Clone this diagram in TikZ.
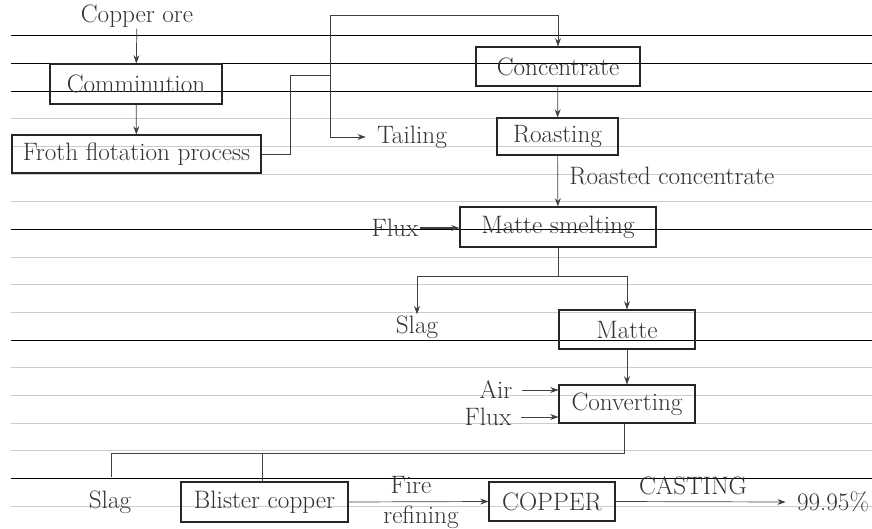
\documentclass[tikz,border=0pt]{standalone}
\usetikzlibrary{arrows.meta}
\begin{document}
\begin{tikzpicture}[x=0.03cm,y=-0.03cm,
  box/.style 2 args={draw=black!85,line width=0.9pt,minimum width=#1*0.03cm,minimum height=#2*0.03cm,inner sep=0pt,font=\fontsize{21.5}{24}\selectfont,text=black!80},
  lbl/.style={inner sep=1pt,font=\fontsize{21.5}{24}\selectfont,text=black!80},
  conn/.style={draw=black!75,line width=0.6pt},
  arr/.style={conn,-{Stealth[length=7pt,width=5pt]}},
  rulerdark/.style={line width=0.7pt,black},
  rulerfaint/.style={line width=0.6pt,black!20}]
\useasboundingbox (0,0) rectangle (872,528);
% ruled lines
\foreach \yy in {118,146,174,201,257,284,312,367,395,423,450,506}
  \draw[rulerfaint] (11,\yy) -- (872,\yy);
\foreach \yy in {35,63,91,229,340,478}
  \draw[rulerdark] (11,\yy) -- (872,\yy);
% boxes
\node[box={172}{40}] (comm) at (136,84) {Comminution};
\node[box={249}{38}] (froth) at (136.5,154) {Froth flotation process};
\node[box={164}{39}] (conc) at (558,66.5) {Concentrate};
\node[box={121}{37}] (roast) at (557.5,136.5) {Roasting};
\node[box={196}{40}] (smelt) at (558,227) {Matte smelting};
\node[box={136}{39}] (matte) at (627,329.5) {Matte};
\node[box={136}{38}] (conv) at (627,404) {Converting};
\node[box={167}{40}] (blister) at (264.5,502) {Blister copper};
\node[box={126}{39}] (copper) at (552,501.5) {COPPER};
% labels
\node[lbl] (ore) at (137,16) {Copper ore};
\node[lbl] (tail) at (412,137) {Tailing};
\node[lbl,anchor=west] (roasted) at (568,176) {Roasted concentrate};
\node[lbl] (flux1) at (395,228) {Flux};
\node[lbl] (slag1) at (417,327) {Slag};
\node[lbl] (air) at (496,390) {Air};
\node[lbl] (flux2) at (488,417) {Flux};
\node[lbl] (slag2) at (110,502) {Slag};
\node[lbl] (fire) at (411,485) {Fire};
\node[lbl] (refin) at (421,517) {refining};
\node[lbl] (cast) at (693,486) {CASTING};
\node[lbl] (pct) at (833,502) {99.95\%};
% junctions
\coordinate (j1) at (290,154);
\coordinate (j2) at (290,75);
\coordinate (j3) at (330,75);
\coordinate (j4) at (330,15);
\coordinate (j5) at (558,15);
\coordinate (j6) at (330,137);
\coordinate (k1) at (558,276);
\coordinate (k2) at (417,276);
\coordinate (k3) at (627,276);
\coordinate (m1) at (624,453);
\coordinate (m2) at (111,453);
\coordinate (m3) at (111,477);
\coordinate (m4) at (262,453);
% connectors
\draw[arr] (ore) -- (comm);
\draw[arr] (comm) -- (froth);
\draw[conn] (froth.east) -- (j1) -- (j2) -- (j3);
\draw[conn] (j4) -- (j6);
\draw[arr] (j4) -- (j5) -- (conc.north);
\draw[arr] (j6) -- ([xshift=-0.3cm]tail.west);
\draw[arr] (conc) -- (roast);
\draw[arr] (roast) -- (smelt);
\draw[arr,line width=1.2pt] (flux1.east) -- (smelt.west|-flux1.east);
\draw[conn] (smelt.south) -- (k1);
\draw[conn] (k2) -- (k3);
\draw[arr] (k2) -- (slag1.north);
\draw[arr] (k3) -- (matte.north);
\draw[arr] (matte) -- (conv);
\draw[arr] ([xshift=0.25cm]air.east) -- (conv.west|-air.east);
\draw[arr] ([xshift=0.25cm]flux2.east) -- (conv.west|-flux2.east);
\draw[conn] (conv.south-|m1) -- (m1) -- (m2) -- (m3);
\draw[conn] (m4) -- (blister.north-|m4);
\draw[arr] (blister.east) -- (copper.west);
\draw[arr] (copper.east) -- ([xshift=-0.3cm]pct.west);
\end{tikzpicture}
\end{document}
